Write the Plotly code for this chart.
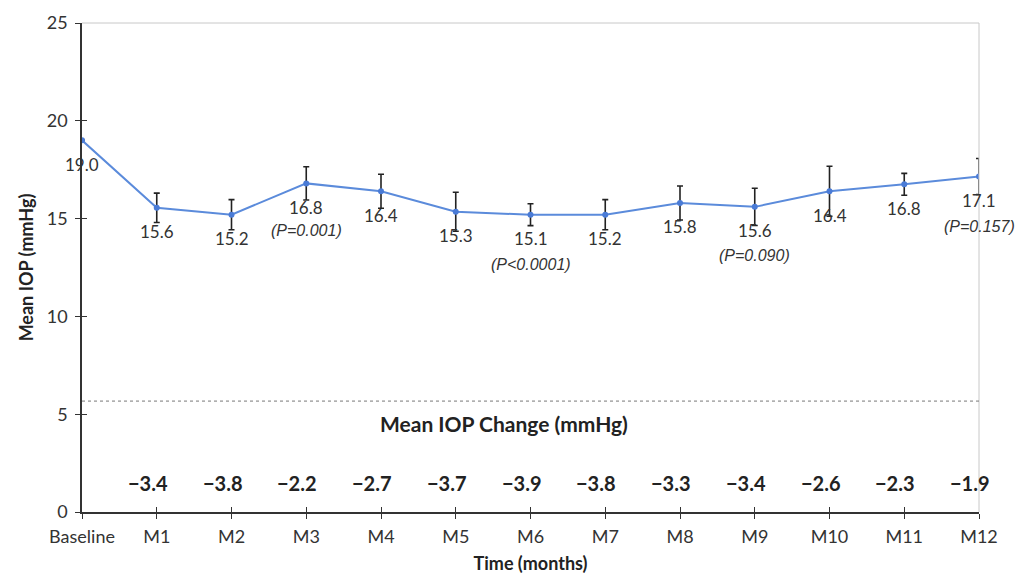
import plotly.graph_objects as go

categories = ["Baseline", "M1", "M2", "M3", "M4", "M5", "M6", "M7", "M8", "M9", "M10", "M11", "M12"]
mean_iop = [19.0, 15.6, 15.2, 16.8, 16.4, 15.3, 15.1, 15.2, 15.8, 15.6, 16.4, 16.8, 17.1]
plot_iop = [19.0, 15.55, 15.2, 16.8, 16.4, 15.35, 15.2, 15.2, 15.8, 15.6, 16.4, 16.75, 17.15]
err = [0.0, 0.75, 0.77, 0.85, 0.87, 1.0, 0.56, 0.77, 0.87, 0.95, 1.28, 0.56, 0.92]
p_labels = {3: "(P=0.001)", 6: "(P<0.0001)", 9: "(P=0.090)", 12: "(P=0.157)"}
p_shift = {3: -47, 6: -50, 9: -49, 12: -50}
changes = [None, "\u22123.4", "\u22123.8", "\u22122.2", "\u22122.7", "\u22123.7", "\u22123.9",
           "\u22123.8", "\u22123.3", "\u22123.4", "\u22122.6", "\u22122.3", "\u22121.9"]
yticks = [0, 5, 10, 15, 20, 25]
divider_y = 5.67
change_y = 1.5

xs = list(range(len(categories)))
FONT = "Lato, Open Sans, sans-serif"

fig = go.Figure()
fig.add_trace(go.Scatter(
    x=xs, y=plot_iop, mode="lines+markers",
    line=dict(color="#5B8BDB", width=2),
    marker=dict(color="#4A7BD6", size=6),
    error_y=dict(type="data", array=err, visible=True, color="#222222", thickness=1.6, width=3),
    showlegend=False, hoverinfo="skip",
))
# invisible trace for overlay axes
fig.add_trace(go.Scatter(x=[0, 12], y=[0, 25], xaxis="x2", yaxis="y2", mode="markers",
                         marker=dict(opacity=0), showlegend=False, hoverinfo="skip"))

ann = []
for i, (v, pv) in enumerate(zip(mean_iop, plot_iop)):
    ann.append(dict(x=i, y=pv, text=f"{v:.1f}", showarrow=False, yshift=-24,
                    font=dict(family=FONT, size=17, color="#333333")))
    if i in p_labels:
        ann.append(dict(x=i, y=pv, text=f"<i>{p_labels[i]}</i>", showarrow=False, yshift=p_shift[i],
                        font=dict(family="Liberation Sans, Arial", size=16, color="#333333")))
    if changes[i]:
        ann.append(dict(x=i, y=change_y, text=f"<b>{changes[i]}</b>", showarrow=False, xshift=-9,
                        font=dict(family=FONT, size=20, color="#222222")))
ann.append(dict(x=5.65, y=4.5, text="<b>Mean IOP Change (mmHg)</b>", showarrow=False,
                font=dict(family=FONT, size=21, color="#222222")))

fig.update_layout(
    width=1030, height=574,
    margin=dict(l=82, r=51, t=23, b=62),
    paper_bgcolor="white", plot_bgcolor="white",
    annotations=ann,
    xaxis=dict(range=[0, 12], tickvals=xs, ticktext=categories, showgrid=False, zeroline=False,
               showline=True, linecolor="#333333", linewidth=1.5, ticks="outside", ticklen=5,
               tickcolor="#333333", tickwidth=1.2, ticklabelstandoff=3, automargin=False,
               tickfont=dict(family=FONT, size=18, color="#333333"),
               title=dict(text="<b>Time (months)</b>", font=dict(family=FONT, size=18, color="#222222"),
                          standoff=11)),
    yaxis=dict(range=[0, 25], tickvals=yticks, showgrid=False, zeroline=False,
               showline=True, linecolor="#333333", linewidth=1.5, ticks="outside", ticklen=5,
               tickcolor="#333333", tickwidth=1.2, ticklabelstandoff=4, automargin=False,
               tickfont=dict(family=FONT, size=18, color="#333333"),
               title=dict(text="<b>Mean IOP (mmHg)</b>", font=dict(family=FONT, size=18, color="#222222"),
                          standoff=8)),
    xaxis2=dict(range=[0, 12], tickvals=xs, overlaying="x", showticklabels=False, showgrid=False,
                zeroline=False, ticks="inside", ticklen=5, tickcolor="#333333", tickwidth=1.2),
    yaxis2=dict(range=[0, 25], tickvals=yticks, overlaying="y", showticklabels=False, showgrid=False,
                zeroline=False, ticks="inside", ticklen=5, tickcolor="#333333", tickwidth=1.2),
    shapes=[
        dict(type="line", xref="paper", yref="paper", x0=0, x1=1, y0=1, y1=1,
             line=dict(color="#C8C8C8", width=1)),
        dict(type="line", xref="paper", yref="paper", x0=1, x1=1, y0=0, y1=1,
             line=dict(color="#C8C8C8", width=1)),
        dict(type="line", xref="paper", yref="y", x0=0, x1=1, y0=divider_y, y1=divider_y,
             line=dict(color="#777777", width=1, dash="dot")),
    ],
)
fig.write_html("out.html")
